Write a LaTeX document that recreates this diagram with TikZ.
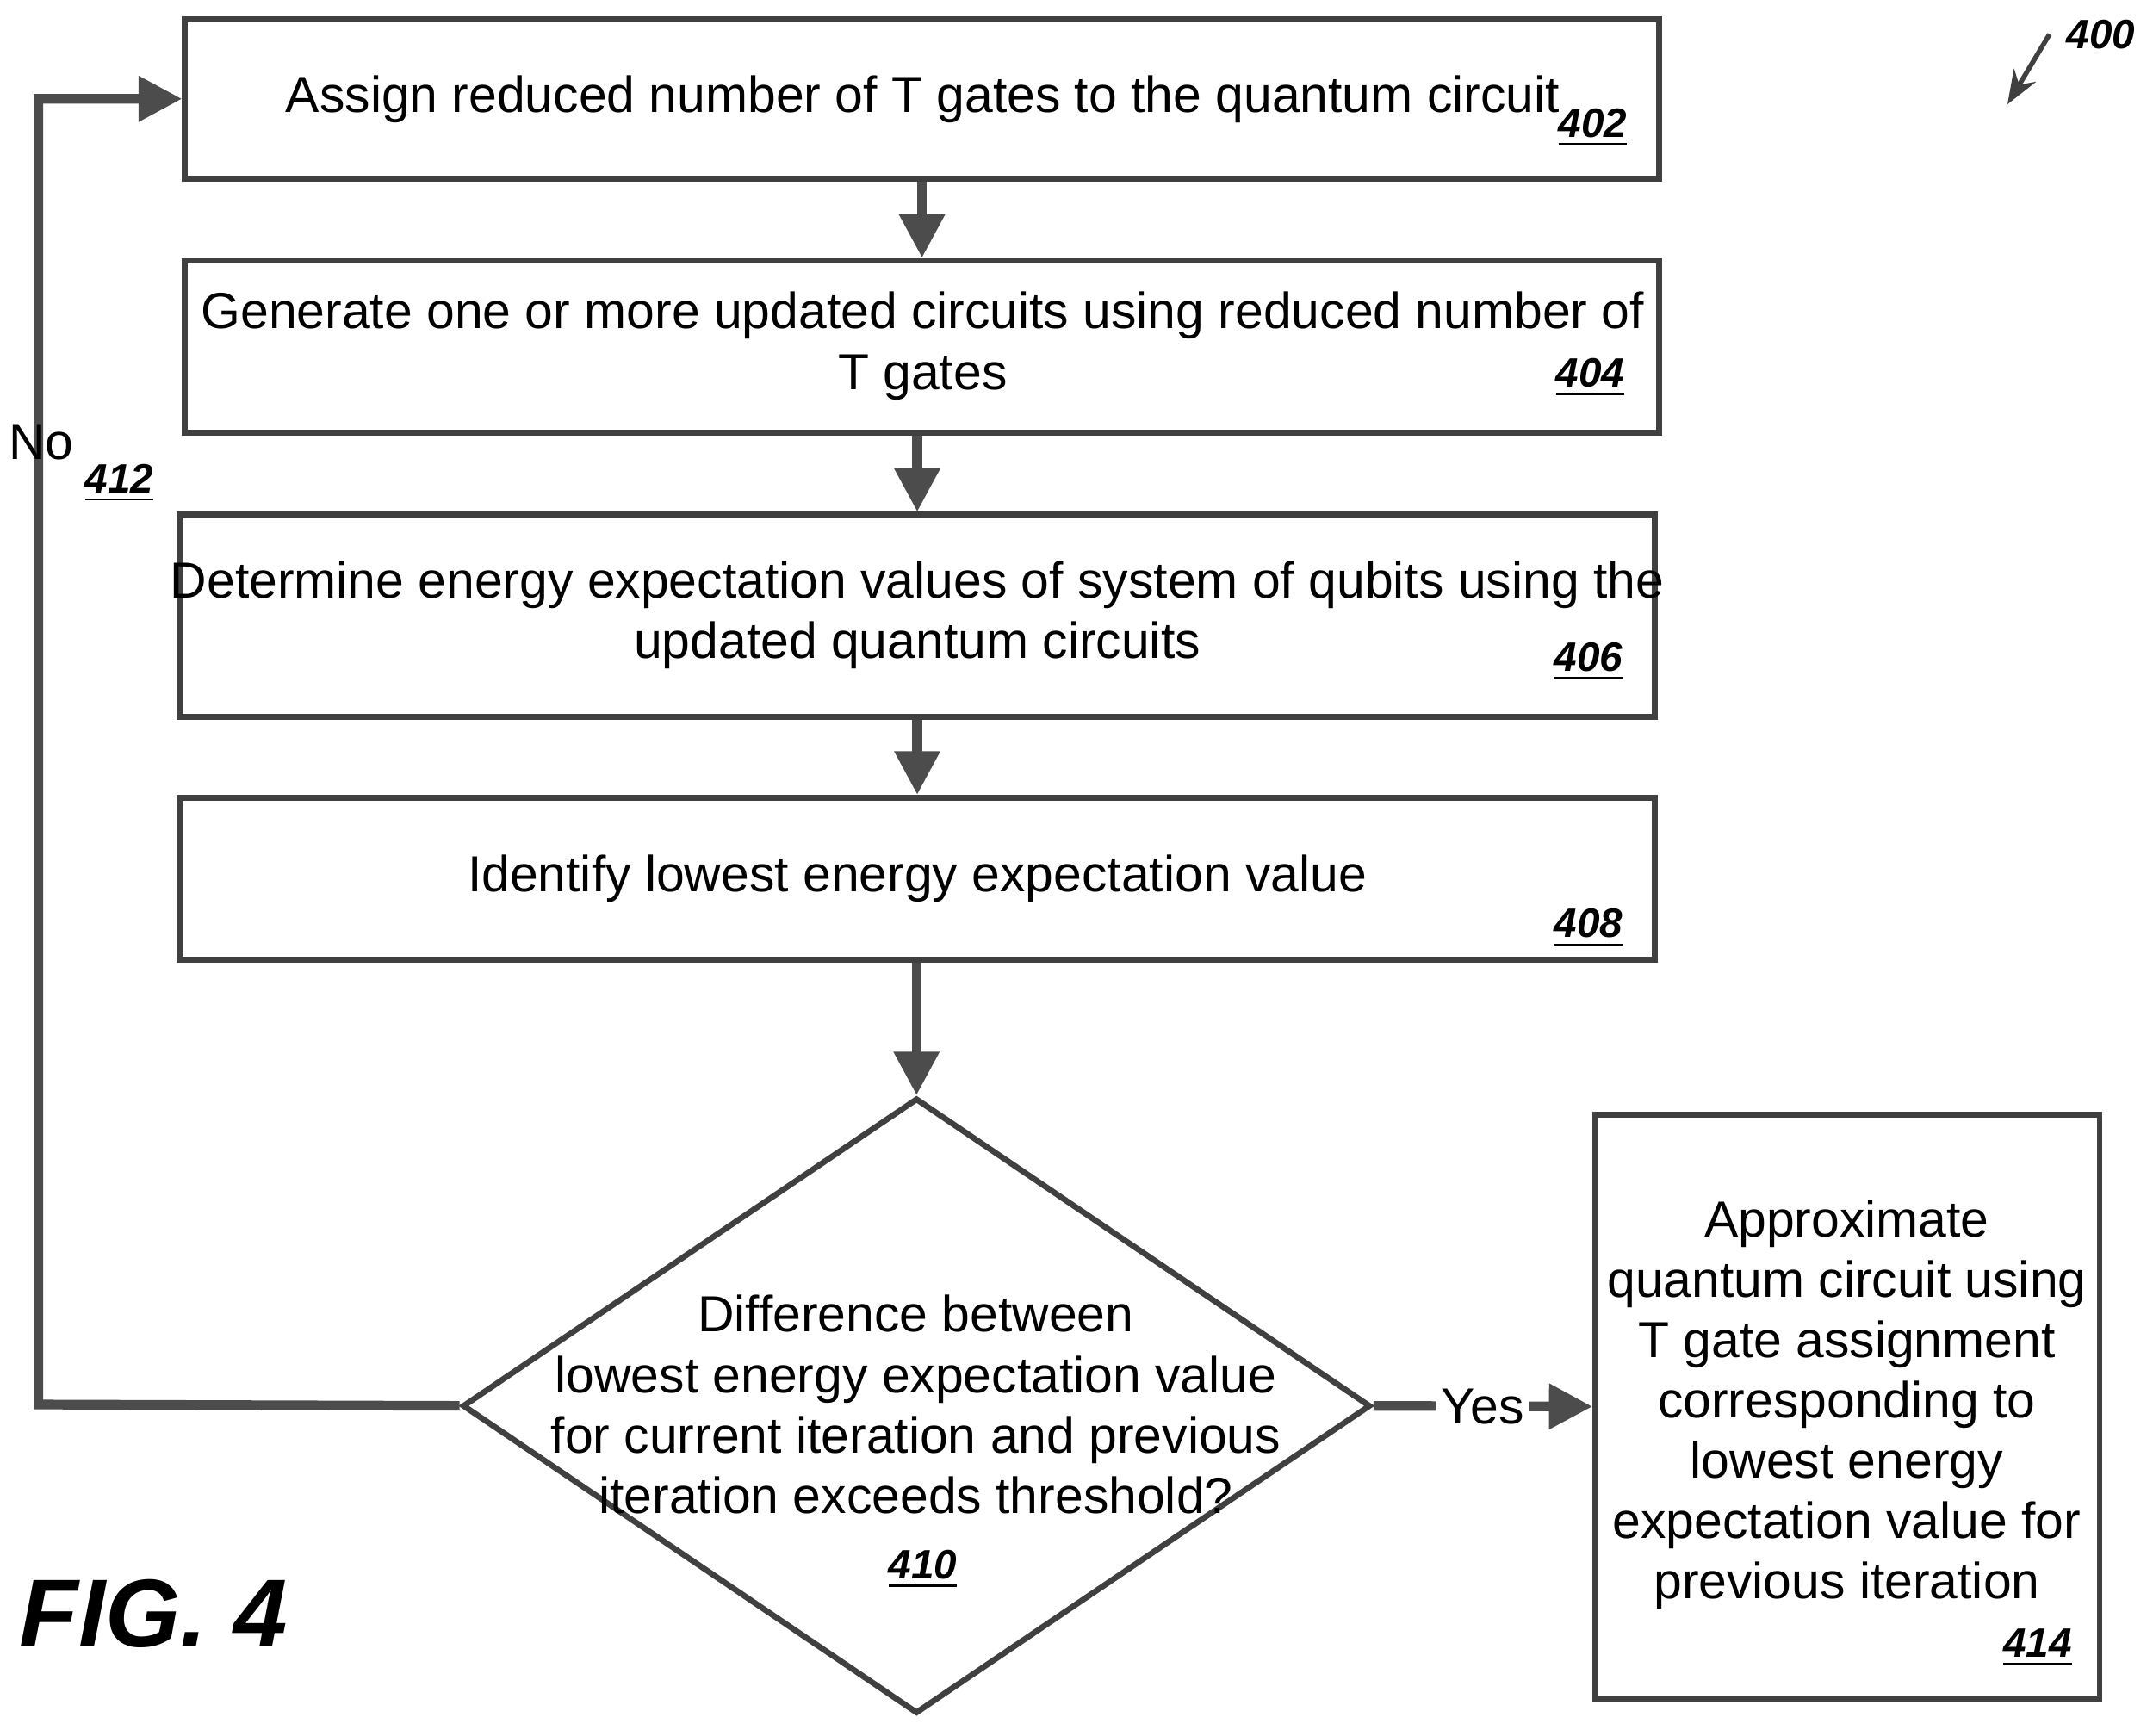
\documentclass[tikz,border=0pt]{standalone}
\usepackage{fontspec}
\setmainfont{Liberation Sans}
\usetikzlibrary{arrows.meta,shapes.geometric,positioning,decorations.pathmorphing}

\newcommand{\reflabel}[1]{\textbf{\textit{\underline{#1}}}}

\begin{document}
\begin{tikzpicture}[x=0.01cm, y=-0.01cm,
                    every node/.style={font=\fontsize{10.5}{12.5}\selectfont},
                    stage/.style={draw=black!75, line width=1.2pt, inner sep=0pt},
                    num/.style={font=\fontsize{8.5}{10}\selectfont, anchor=center},
                    flow/.style={draw=black!70, line width=2pt, -{Triangle[length=9pt,width=9pt]}}]
    \useasboundingbox (0,0) rectangle (1568,1264);

    % process boxes
    \node[stage, minimum width=10.73cm, minimum height=1.16cm] (assign) at (671.5,72) {};
    \node at (672,72) {Assign reduced number of T gates to the quantum circuit};
    \node[num] at (1160,93) {\reflabel{402}};

    \node[stage, minimum width=10.73cm, minimum height=1.25cm] (generate) at (671.5,252.5) {};
    \node[align=center] at (672,252) {Generate one or more updated circuits using reduced number of\\T gates};
    \node[num] at (1158,275) {\reflabel{404}};

    \node[stage, minimum width=10.74cm, minimum height=1.47cm] (energy) at (668,448.5) {};
    \node[align=center] at (668,448) {Determine energy expectation values of system of qubits using the\\updated quantum circuits};
    \node[num] at (1157,482) {\reflabel{406}};

    \node[stage, minimum width=10.74cm, minimum height=1.18cm] (lowest) at (668,640) {};
    \node at (668,640) {Identify lowest energy expectation value};
    \node[num] at (1157,676) {\reflabel{408}};

    % decision
    \node[stage, diamond, minimum width=6.61cm, minimum height=4.48cm] (check) at (667.5,1024) {};
    \node[align=center] at (667,1023) {Difference between\\lowest energy expectation value\\for current iteration and previous\\iteration exceeds threshold?};
    \node[num] at (672,1143) {\reflabel{410}};

    \node[stage, minimum width=3.67cm, minimum height=4.25cm] (approx) at (1345.5,1024.5) {};
    \node[align=center] at (1345,1023) {Approximate\\quantum circuit using\\T gate assignment\\corresponding to\\lowest energy\\expectation value for\\previous iteration};
    \node[num] at (1484,1200) {\reflabel{414}};

    % connectors
    \draw[flow] (assign) -- (generate);
    \draw[flow] (generate.south -| energy.north) -- (energy.north);
    \draw[flow] (energy) -- (lowest);
    \draw[flow] (lowest.south -| check.north) -- (check.north);
    \coordinate (loopdown) at (28,1023);
    \coordinate (loopup) at (28,72);
    \draw[flow] (check.west) -- (loopdown) -- (loopup) -- (assign.west);
    \draw[flow] (check.east) -- node[fill=white, inner sep=1pt] {Yes} (approx.west);
    \node at (30,322) {No};
    \node[num] at (87,352) {\reflabel{412}};

    % figure reference
    \node[num] (fig) at (1530,25) {\textbf{\textit{400}}};
    \draw[black!75, line width=1pt, -{Stealth[length=7pt]},
          decorate, decoration={snake, amplitude=3pt, segment length=18pt, post length=6pt}]
          (fig.west) -- (1462,76);
    \node[font=\fontsize{20}{24}\selectfont\bfseries\itshape] at (112,1175) {FIG. 4};
\end{tikzpicture}
\end{document}
